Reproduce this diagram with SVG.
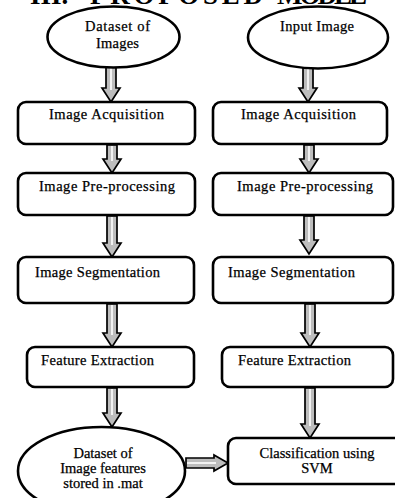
<svg xmlns="http://www.w3.org/2000/svg" width="395" height="498" viewBox="0 0 395 498">
<style>
.shape{fill:#fff;stroke:#000;stroke-width:2.6}
.t{font-family:"Liberation Serif","Times New Roman",serif;font-size:14.5px;fill:#000;stroke:#000;stroke-width:0.25}
.title{font-family:"Liberation Serif","Times New Roman",serif;font-size:27px;font-weight:bold;fill:#000}
.arr{fill:#bdbdbd;stroke:#000;stroke-width:1.7;stroke-linejoin:miter}
.mid{stroke:#fff;stroke-width:1.6;fill:none}
</style>
<rect width="395" height="498" fill="#fff"/>
<g id="title">
<text class="title" x="30" y="4">III.</text>
<text class="title" x="90" y="4" textLength="173">PROPOSED</text>
<text class="title" x="277" y="4" textLength="90">MODEL</text>
</g>
<g id="connectors">
<polygon class="arr" points="106,67 116,67 116,88 120,88 111,102 102,88 106,88"/>
<line class="mid" x1="111" y1="68" x2="111" y2="90"/>
<polygon class="arr" points="303,68 313,68 313,88 317,88 308,102 299,88 303,88"/>
<line class="mid" x1="308" y1="69" x2="308" y2="90"/>
<polygon class="arr" points="107,145 117,145 117,159 121,159 112,173 103,159 107,159"/>
<line class="mid" x1="112" y1="146" x2="112" y2="161"/>
<polygon class="arr" points="304,145 314,145 314,159 318,159 309,173 300,159 304,159"/>
<line class="mid" x1="309" y1="146" x2="309" y2="161"/>
<polygon class="arr" points="107,216 117,216 117,243 121,243 112,257 103,243 107,243"/>
<line class="mid" x1="112" y1="217" x2="112" y2="245"/>
<polygon class="arr" points="304,216 314,216 314,240 318,240 309,254 300,240 304,240"/>
<line class="mid" x1="309" y1="217" x2="309" y2="242"/>
<polygon class="arr" points="107,304 117,304 117,333 121,333 112,347 103,333 107,333"/>
<line class="mid" x1="112" y1="305" x2="112" y2="335"/>
<polygon class="arr" points="305,304 315,304 315,333 319,333 310,347 301,333 305,333"/>
<line class="mid" x1="310" y1="305" x2="310" y2="335"/>
<polygon class="arr" points="107,388 117,388 117,413 121,413 112,427 103,413 107,413"/>
<line class="mid" x1="112" y1="389" x2="112" y2="415"/>
<polygon class="arr" points="305,388 315,388 315,424 319,424 310,438 301,424 305,424"/>
<line class="mid" x1="310" y1="389" x2="310" y2="426"/>
<polygon class="arr" points="186,458 214,458 214,455 228,463 214,471 214,468 186,468"/>
<line class="mid" x1="187" y1="463" x2="216" y2="463"/>
</g>
<g id="dataset-images">
<ellipse class="shape" cx="113.5" cy="37" rx="66" ry="30.5"/>
<text class="t" x="85" y="31" textLength="65">Dataset of</text>
<text class="t" x="96" y="48" textLength="43">Images</text>
</g>
<g id="input-image">
<ellipse class="shape" cx="318" cy="37.5" rx="70" ry="31"/>
<text class="t" x="280" y="31" textLength="74">Input Image</text>
</g>
<g id="acq-left">
<rect class="shape" x="18" y="102" width="177" height="42" rx="8"/>
<text class="t" x="49" y="119" textLength="115">Image Acquisition</text>
</g>
<g id="acq-right">
<rect class="shape" x="213" y="102" width="174" height="42" rx="8"/>
<text class="t" x="241" y="119" textLength="115">Image Acquisition</text>
</g>
<g id="pre-left">
<rect class="shape" x="18" y="173" width="177" height="42" rx="8"/>
<text class="t" x="39" y="191" textLength="136">Image Pre-processing</text>
</g>
<g id="pre-right">
<rect class="shape" x="213" y="173" width="180" height="42" rx="8"/>
<text class="t" x="237" y="191" textLength="136">Image Pre-processing</text>
</g>
<g id="seg-left">
<rect class="shape" x="18" y="257" width="176" height="46" rx="8"/>
<text class="t" x="35" y="277" textLength="125">Image Segmentation</text>
</g>
<g id="seg-right">
<rect class="shape" x="213" y="257" width="180" height="46" rx="8"/>
<text class="t" x="228" y="277" textLength="127">Image Segmentation</text>
</g>
<g id="fe-left">
<rect class="shape" x="27" y="347" width="167" height="40" rx="8"/>
<text class="t" x="41" y="365" textLength="113">Feature Extraction</text>
</g>
<g id="fe-right">
<rect class="shape" x="222" y="347" width="171" height="40" rx="8"/>
<text class="t" x="238" y="365" textLength="113">Feature Extraction</text>
</g>
<g id="dataset-features">
<ellipse class="shape" cx="101.5" cy="471" rx="83.5" ry="44"/>
<text class="t" x="103" y="458" text-anchor="middle">Dataset of</text>
<text class="t" x="103" y="473" text-anchor="middle">Image features</text>
<text class="t" x="103" y="488" text-anchor="middle">stored in .mat</text>
</g>
<g id="classification">
<rect class="shape" x="228" y="438" width="180" height="46" rx="8"/>
<text class="t" x="317" y="458" text-anchor="middle">Classification using</text>
<text class="t" x="317" y="473" text-anchor="middle">SVM</text>
</g>
</svg>
